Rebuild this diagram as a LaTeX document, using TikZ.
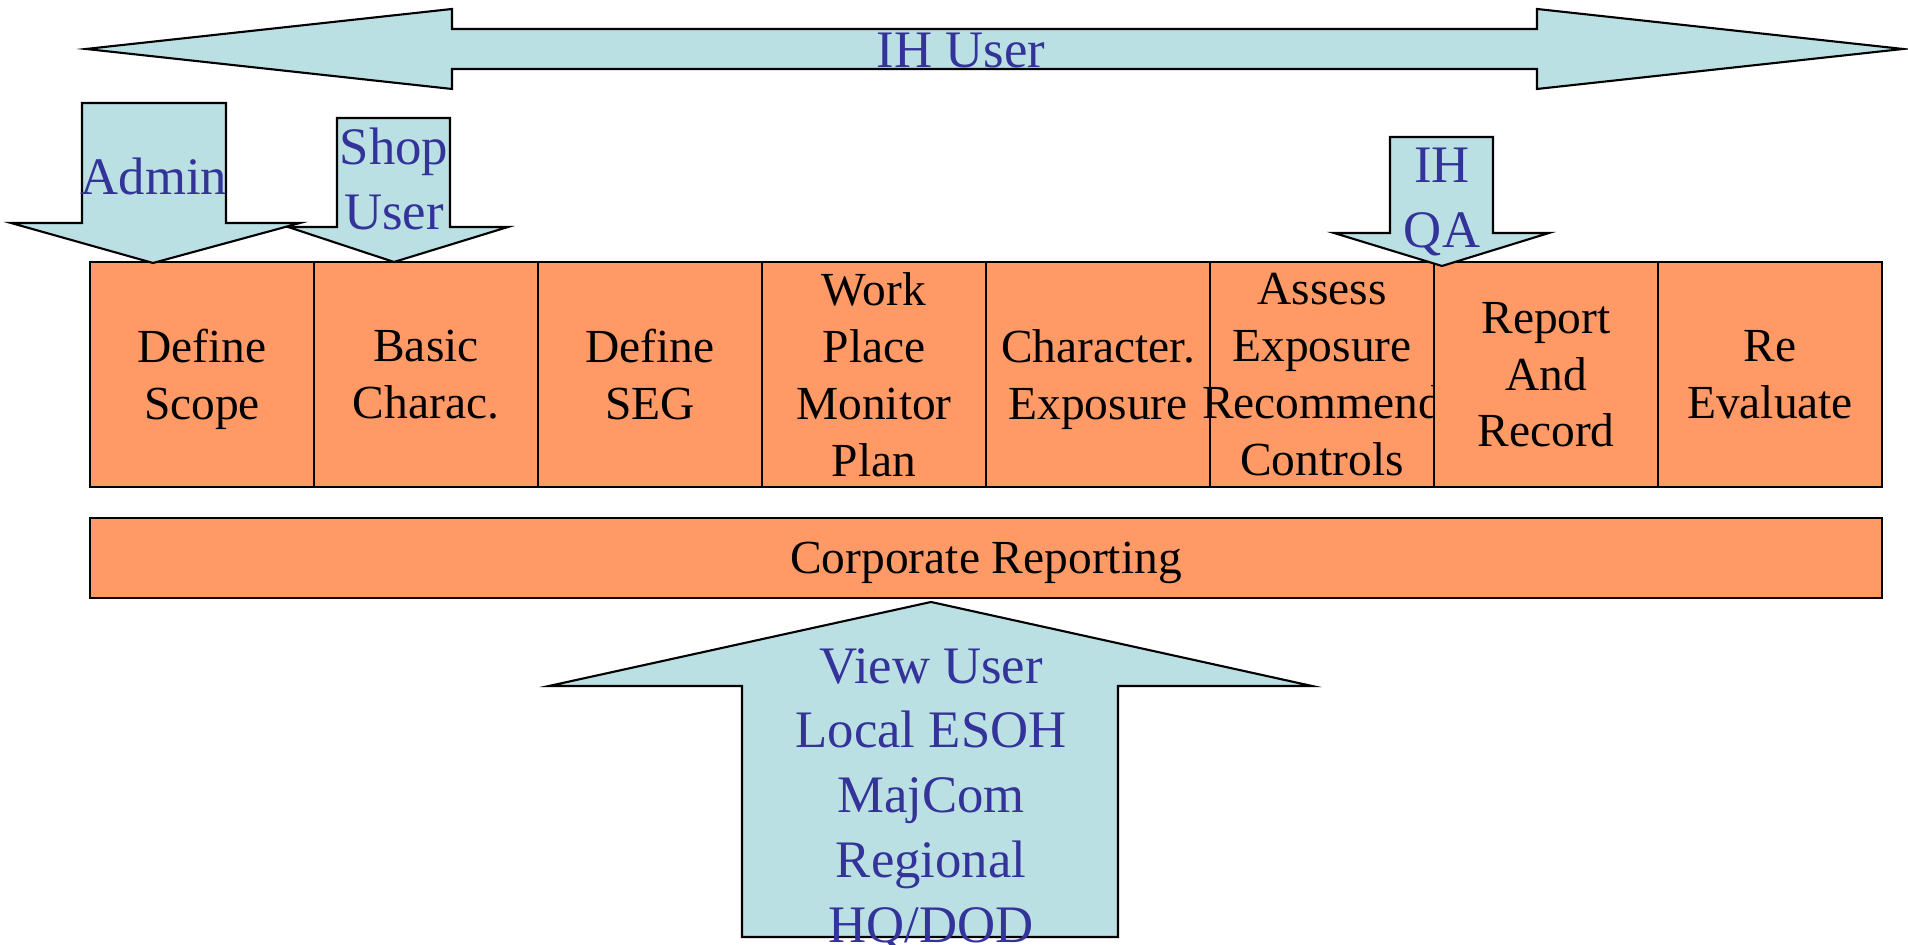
\documentclass[tikz,border=0pt]{standalone}
\usepackage{fontspec}
\setmainfont{Liberation Serif}
\definecolor{cellorange}{HTML}{FF9966}
\definecolor{arrowcyan}{HTML}{BBE0E3}
\definecolor{userblue}{HTML}{333399}

\begin{document}
\begin{tikzpicture}[
  stepcell/.style={rectangle, draw, fill=cellorange, line width=0.6pt, minimum width=2.24cm, minimum height=2.25cm, inner sep=0pt, align=center, text depth=-3.2pt, font=\fontsize{13.5}{16.2}\selectfont},
  userarrow/.style={draw, fill=arrowcyan, line width=0.6pt, line join=miter},
  usertext/.style={text=userblue, align=center, inner sep=0pt, font=\fontsize{15}{18.4}\selectfont}
]
\useasboundingbox (0,0) rectangle (19.08,9.45);

% IH user arrow (both ways)
\draw[userarrow] (0.86,8.96) -- (4.52,9.36) -- (4.52,9.16) -- (15.37,9.16) -- (15.37,9.36) -- (19.03,8.96)
  -- (15.37,8.56) -- (15.37,8.76) -- (4.52,8.76) -- (4.52,8.56) -- cycle;
\node[usertext] (ihuser) at (9.61,8.94) {IH User};

% Process steps
\node[stepcell] (scope) at (2.02,5.705) {Define\\Scope};
\node[stepcell] (basic) at (4.26,5.705) {Basic\\Charac.};
\node[stepcell] (seg) at (6.50,5.705) {Define\\SEG};
\node[stepcell] (plan) at (8.74,5.705) {Work\\Place\\Monitor\\Plan};
\node[stepcell] (charexp) at (10.98,5.705) {Character.\\Exposure};
\node[stepcell] (assess) at (13.22,5.705) {Assess\\Exposure\\\makebox[0pt]{Recommend}\\Controls};
\node[stepcell] (report) at (15.46,5.705) {Report\\And\\Record};
\node[stepcell] (reeval) at (17.70,5.705) {Re\\Evaluate};

% Down arrows into the steps
\draw[userarrow] (3.37,8.27) -- (4.50,8.27) -- (4.50,7.18) -- (5.08,7.18) -- (3.94,6.83) -- (2.88,7.18) -- (3.37,7.18) -- cycle;
\draw[userarrow] (0.82,8.42) -- (2.26,8.42) -- (2.26,7.22) -- (3.00,7.22) -- (1.53,6.82) -- (0.11,7.22) -- (0.82,7.22) -- cycle;
\draw[userarrow] (13.90,8.08) -- (14.93,8.08) -- (14.93,7.12) -- (15.49,7.12) -- (14.42,6.79) -- (13.34,7.12) -- (13.90,7.12) -- cycle;
\node[usertext] (admin) at (1.54,7.69) {Admin};
\node[usertext] (shopuser) at (3.94,7.66) {Shop\\User};
\node[usertext] (ihqa) at (14.42,7.43) {IH\\QA};

% Reporting bar
\node[stepcell, minimum width=17.92cm, minimum height=0.80cm] (corp) at (9.86,3.87) {Corporate Reporting};

% View users arrow
\draw[userarrow] (7.42,0.08) -- (7.42,2.59) -- (5.49,2.59) -- (9.31,3.43) -- (13.12,2.59) -- (11.18,2.59) -- (11.18,0.08) -- cycle;
\node[usertext] (viewuser) at (9.31,1.455) {View User\\Local ESOH\\MajCom\\Regional\\HQ/DOD};

\end{tikzpicture}
\end{document}
